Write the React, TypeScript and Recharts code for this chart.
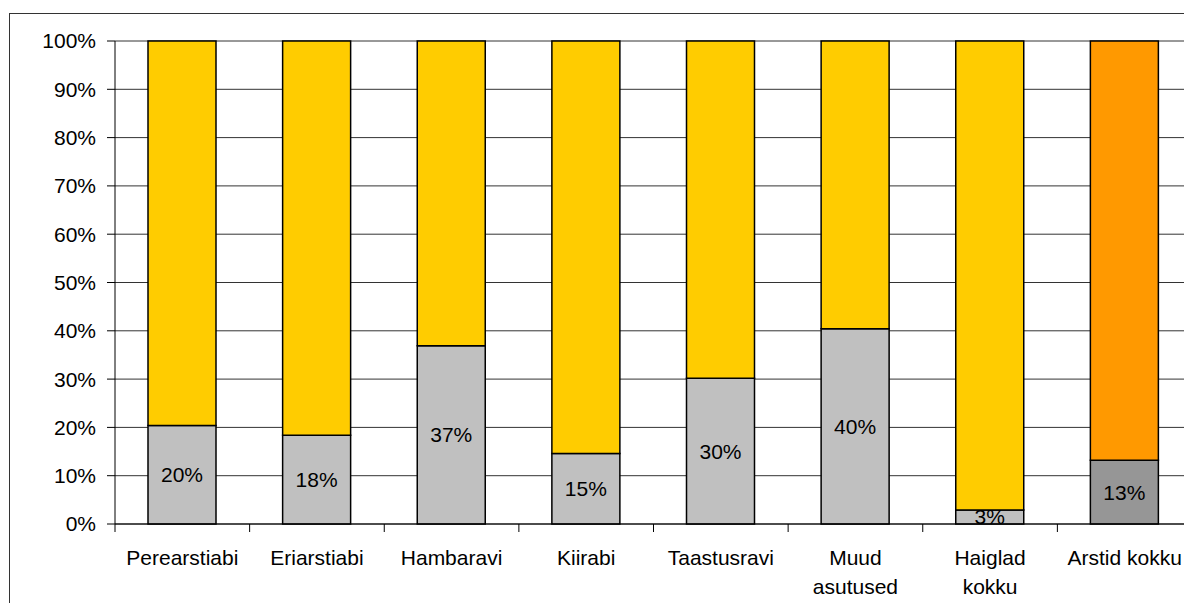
import { BarChart, Bar, XAxis, YAxis, CartesianGrid, Cell, LabelList } from 'recharts';

const categories = [
  'Perearstiabi',
  'Eriarstiabi',
  'Hambaravi',
  'Kiirabi',
  'Taastusravi',
  'Muud\nasutused',
  'Haiglad\nkokku',
  'Arstid kokku',
];
const share = [20.4, 18.4, 36.9, 14.6, 30.2, 40.4, 2.9, 13.2];
const yTicks = [0, 10, 20, 30, 40, 50, 60, 70, 80, 90, 100];

const data = categories.map((name, i) => ({ name, share: share[i], rest: 100 - share[i] }));

const font = '"Liberation Sans", Arial, sans-serif';

const CategoryTick = (props: any) => {
  const { x, y, payload } = props;
  const half = payload.offset || 67;
  const lines = String(payload.value).split('\n');
  return (
    <g>
      <line x1={x - half} x2={x - half} y1={y} y2={y + 8} stroke="#000" />
      {lines.map((line: string, i: number) => (
        <text key={i} x={x} y={y + 41 + i * 29} textAnchor="middle" fontSize={21} fontFamily={font} fill="#000">
          {line}
        </text>
      ))}
    </g>
  );
};

const App = () => {
  return (
    <div style={{ position: 'absolute', left: 0, top: 0, width: 1184, height: 603, overflow: 'hidden', background: '#fff' }}>
      <div
        style={{
          position: 'absolute',
          left: 9,
          top: 13,
          width: 1300,
          height: 700,
          borderLeft: '1px solid #333',
          borderTop: '1px solid #333',
        }}
      >
        <BarChart width={1200} height={600} data={data} margin={{ top: 27, right: 18, bottom: 10, left: 0 }}>
          <CartesianGrid vertical={false} stroke="#333" strokeDasharray="" />
          <XAxis
            dataKey="name"
            interval={0}
            height={80}
            tickLine={false}
            tickSize={0}
            tickMargin={0}
            axisLine={{ stroke: '#000' }}
            tick={<CategoryTick />}
          />
          <YAxis
            width={105}
            domain={[0, 100]}
            ticks={yTicks}
            tickFormatter={(v: number) => `${v}%`}
            tickSize={8}
            tickMargin={11}
            axisLine={{ stroke: '#000' }}
            tickLine={{ stroke: '#000' }}
            tick={{ fill: '#000', fontSize: 21, fontFamily: font }}
          />
          <Bar dataKey="share" stackId="a" barSize={68} stroke="#000" strokeWidth={1.5} isAnimationActive={false}>
            {data.map((d, i) => (
              <Cell key={d.name} fill={i === data.length - 1 ? '#969696' : '#C0C0C0'} />
            ))}
            <LabelList
              dataKey="share"
              position="center"
              formatter={(v: any) => `${Math.round(Number(v))}%`}
              fill="#000"
              fontSize={21}
              fontFamily={font}
            />
          </Bar>
          <Bar dataKey="rest" stackId="a" barSize={68} stroke="#000" strokeWidth={1.5} isAnimationActive={false}>
            {data.map((d, i) => (
              <Cell key={d.name} fill={i === data.length - 1 ? '#FF9900' : '#FFCC00'} />
            ))}
          </Bar>
        </BarChart>
      </div>
    </div>
  );
};

export default App;
